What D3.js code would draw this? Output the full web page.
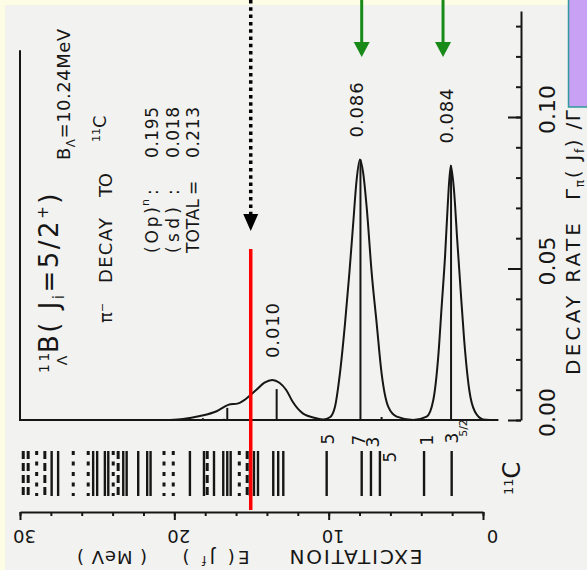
<!DOCTYPE html>
<html>
<head>
<meta charset="utf-8">
<script src="https://cdn.jsdelivr.net/npm/d3@7"></script>
<style>
	html, body { margin: 0; padding: 0; background: #fdfde6; }
	svg { display: block; }
	text { font-family: "DejaVu Sans", sans-serif; fill: #161616; }
</style>
</head>
<body>
<svg id="plot" width="587" height="570"></svg>
<script>

// 11C levels drawn in the level scheme (MeV); group 0 solid, 1 dashed, 2 dotted
const LEVEL_E = [29.79, 29.47, 28.92, 28.39, 27.95, 27.53, 26.55, 25.58, 25.26, 25.00, 24.50, 24.28,
	23.96, 23.64, 23.31, 23.09, 22.34, 21.76, 21.54, 20.67, 20.07, 18.99, 18.08, 17.87,
	17.43, 16.83, 16.57, 16.35, 15.79, 15.28, 15.10, 14.84, 14.58, 13.59, 13.27, 12.94];
const LEVEL_GROUP = [1, 1, 2, 1, 0, 0, 2, 2, 0, 0, 0, 0,
	2, 1, 0, 0, 0, 0, 0, 2, 2, 0, 0, 1,
	0, 0, 0, 0, 2, 1, 0, 0, 0, 0, 0, 0];

// low-lying levels with their 2J labels
const LOW_E = [10.13, 7.86, 7.26, 6.68, 3.82, 2.03];
const LOW_2J = ['5', '7', '3', '5', '1', '3'];

// partial decay rates (sticks)
const STICK_E = [18.99, 18.15, 16.79, 16.57, 13.37, 7.94, 6.57, 2.07];
const STICK_R = [0.0006, 0.0006, 0.0004, 0.0040, 0.0102, 0.0860, 0.0010, 0.0840];

// folded spectrum
const CURVE_E = [20.29, 19.44, 18.34, 17.26, 16.51, 15.86, 15.35, 14.70, 14.16, 13.66, 13.19, 12.75,
	12.33, 11.68, 10.81, 10.35, 9.92, 9.59, 9.27, 8.94, 8.66, 8.41, 8.19, 7.97,
	7.76, 7.54, 7.21, 6.89, 6.57, 6.14, 5.59, 4.52, 3.65, 3.22, 2.90, 2.68,
	2.46, 2.29, 2.09, 1.88, 1.67, 1.45, 1.22, 0.89, 0.52, 0.00, -0.45];
const CURVE_R = [0, 0.0003, 0.0013, 0.0029, 0.0050, 0.0055, 0.0070, 0.0099, 0.0123, 0.0132, 0.0123, 0.0099,
	0.0060, 0.0022, 0.0006, 0.0002, 0.0009, 0.0044, 0.0154, 0.0319, 0.0484, 0.0649, 0.0792, 0.0860,
	0.0814, 0.0704, 0.0484, 0.0319, 0.0154, 0.0044, 0.0011, 0, 0.0011, 0.0066, 0.0209, 0.0374,
	0.0539, 0.0704, 0.0840, 0.0759, 0.0594, 0.0429, 0.0264, 0.0099, 0.0027, 0.0002, 0];

// values printed above the peaks
const PEAK_E = [13.37, 7.94, 2.07];
const PEAK_R = [0.0132, 0.086, 0.084];
const PEAK_TEXT = ['0.010', '0.086', '0.084'];

// summary block
const PART_NAMES = ['(Op)', '(sd)', 'TOTAL'];
const PART_RATES = ['0.195', '0.018', '0.213'];

const E_MAJOR = [30, 20, 10, 0];
const R_MAJOR = [0, 0.05, 0.10];

// slide annotations
const ARROW_E = [7.86, 2.59];
const MARK_E = 15.05;

const INK = '#161616';

const svg = d3.select('#plot');
const x = d3.scaleLinear().domain([30, 0]).range([20, 483]);
const y = d3.scaleLinear().domain([0, 0.1]).range([420, 117]);

// scanned page
svg.append('rect').attr('x', 5).attr('y', 5).attr('width', 582).attr('height', 565).attr('fill', '#f2f2f0');

// vertical text helper (reads bottom to top)
function vtext(cx, cy, size, anchor) {
	return svg.append('text')
		.attr('transform', `translate(${cx},${cy}) rotate(-90)`)
		.attr('text-anchor', anchor || 'start')
		.attr('dy', '0.35em')
		.style('font-size', size + 'px');
}
// upside-down text helper
function utext(cx, cy, size) {
	return svg.append('text')
		.attr('transform', `translate(${cx},${cy}) rotate(180)`)
		.attr('text-anchor', 'middle')
		.attr('dy', '0.35em')
		.style('font-size', size + 'px');
}

// frame
svg.append('path')
	.attr('d', `M${x(30)},${y(0.122)}V${y(0)}H${x(-1)}`)
	.attr('fill', 'none').attr('stroke', INK).attr('stroke-width', 2);

// sticks
svg.selectAll('line.stick')
	.data(STICK_E)
	.enter().append('line')
	.attr('class', 'stick')
	.attr('x1', d => x(d)).attr('x2', d => x(d))
	.attr('y1', y(0)).attr('y2', (d, i) => y(STICK_R[i]))
	.attr('stroke', INK).attr('stroke-width', 2);

// folded curve
const line = d3.line()
	.x(d => x(d[0]))
	.y(d => y(d[1]))
	.curve(d3.curveMonotoneX);
svg.append('path')
	.datum(d3.zip(CURVE_E, CURVE_R))
	.attr('d', line)
	.attr('fill', 'none').attr('stroke', INK).attr('stroke-width', 2);

// peak values
PEAK_TEXT.forEach((t, i) => {
	vtext(x(PEAK_E[i]) - 4, y(PEAK_R[i]) - 22, 18).attr('textLength', 55).text(t);
});

// decay rate axis (right)
const rs = d3.scaleLinear().domain([0, 0.135]).range([y(0), y(0.135)]);
const rMinor = svg.append('g').attr('transform', 'translate(521,0)').attr('color', INK)
	.call(d3.axisRight(rs).tickValues(d3.range(0, 0.131, 0.01)).tickSize(-5).tickSizeOuter(0).tickFormat(''));
const rMajor = svg.append('g').attr('transform', 'translate(521,0)').attr('color', INK)
	.call(d3.axisRight(rs).tickValues(R_MAJOR).tickSize(-13).tickSizeOuter(0).tickFormat(d3.format('.2f')));
rMajor.select('.domain').remove();
[rMinor, rMajor].forEach(g => g.selectAll('path, line').attr('stroke-width', 2));
rMajor.selectAll('text')
	.attr('x', 0).attr('dy', '0.35em')
	.attr('transform', 'translate(26,-8) rotate(-90)')
	.attr('text-anchor', 'middle')
	.style('font-size', '22px').style('font-family', '"DejaVu Sans", sans-serif').attr('fill', INK);

vtext(573, 375, 20).attr('textLength', 152).text('DECAY RATE');
const rt = vtext(573, 200, 20).attr('textLength', 90);
rt.append('tspan').text('Γ');
rt.append('tspan').attr('dy', 4).style('font-size', '12px').text('π');
rt.append('tspan').attr('dy', -4).text('( J');
rt.append('tspan').attr('dy', 4).style('font-size', '12px').text('f');
rt.append('tspan').attr('dy', -4).text(') /Γ');

// energy axis (bottom, upside-down labels)
const eMinor = svg.append('g').attr('transform', 'translate(0,512)').attr('color', INK)
	.call(d3.axisBottom(x).tickValues(d3.range(0, 31, 2)).tickSize(4).tickSizeOuter(0).tickFormat(''));
const eMajor = svg.append('g').attr('transform', 'translate(0,512)').attr('color', INK)
	.call(d3.axisBottom(x).tickValues(E_MAJOR).tickSize(8).tickSizeOuter(0));
eMajor.select('.domain').remove();
[eMinor, eMajor].forEach(g => g.selectAll('path, line').attr('stroke-width', 2));
eMajor.selectAll('text')
	.attr('y', 0).attr('dy', '0.35em')
	.attr('transform', d => `translate(${d === 0 ? 9 : 4},24) rotate(180)`)
	.style('font-size', '18px').style('font-family', '"DejaVu Sans", sans-serif').attr('fill', INK);

utext(356, 557, 20).attr('textLength', 133).text('EXCITATION');
const et = utext(216, 557, 18).attr('textLength', 67);
et.append('tspan').text('E( J');
et.append('tspan').attr('dy', -5).style('font-size', '12px').text('f');
et.append('tspan').attr('dy', 5).text(' )');
utext(112, 557, 18).attr('textLength', 70).text('( MeV )');

// level scheme
const LEVEL_TOP = 451, LEVEL_BOTTOM = 496;
const dashFor = [null, '8 4', '4 6.5'];
svg.selectAll('line.level')
	.data(LEVEL_E)
	.enter().append('line')
	.attr('class', 'level')
	.attr('x1', d => x(d)).attr('x2', d => x(d))
	.attr('y1', LEVEL_TOP).attr('y2', LEVEL_BOTTOM)
	.attr('stroke', INK)
	.attr('stroke-width', (d, i) => LEVEL_GROUP[i] === 0 ? 2.4 : 3)
	.attr('stroke-dasharray', (d, i) => dashFor[LEVEL_GROUP[i]]);

svg.selectAll('line.low')
	.data(LOW_E)
	.enter().append('line')
	.attr('class', 'low')
	.attr('x1', d => x(d)).attr('x2', d => x(d))
	.attr('y1', LEVEL_TOP).attr('y2', LEVEL_BOTTOM)
	.attr('stroke', INK).attr('stroke-width', 2.4);

const lowDx = [1, -3, 2, 10, 3, 0];
const lowY = [439, 440, 442, 457, 440, 438];
LOW_2J.forEach((t, i) => {
	vtext(x(LOW_E[i]) + lowDx[i], lowY[i], 17, 'middle').text(t);
});
vtext(x(LOW_E[5]) + 11, 428, 11, 'middle').text('5/2');

const c11 = vtext(520, 495, 24);
c11.append('tspan').attr('dy', -7).style('font-size', '13px').text('11');
c11.append('tspan').attr('dy', 7).text('C');

// title block
const ta = vtext(58, 373, 26).style('letter-spacing', '2.5px');
ta.append('tspan').attr('dy', -9).style('font-size', '14px').text('11');
ta.append('tspan').attr('dx', -15).attr('dy', 18).style('font-size', '14px').text('Λ');
ta.append('tspan').attr('dy', -9).text('B( J');
ta.append('tspan').attr('dy', 6).style('font-size', '15px').text('i');
ta.append('tspan').attr('dy', -6).text('=5/2');
ta.append('tspan').attr('dy', -10).style('font-size', '15px').text('+');
ta.append('tspan').attr('dy', 10).text(')');

const tb = vtext(64, 160, 18).style('letter-spacing', '0.5px');
tb.append('tspan').text('B');
tb.append('tspan').attr('dy', 5).style('font-size', '12px').text('Λ');
tb.append('tspan').attr('dy', -5).text('=10.24MeV');

vtext(106, 323, 18).text('π⁻');
vtext(106, 283, 18).attr('textLength', 65).text('DECAY');
vtext(106, 197, 18).attr('textLength', 24).text('TO');
const tc = vtext(106, 142, 18);
tc.append('tspan').attr('dy', -6).style('font-size', '11px').text('11');
tc.append('tspan').attr('dy', 6).text('C');

const partX = [152, 173, 193];
PART_NAMES.forEach((n, i) => {
	vtext(partX[i], 253, 17).attr('textLength', i === 2 ? 54 : 46).text(n);
	if (i === 0) {
		vtext(partX[i], 206, 11).attr('dy', '-0.3em').text('n');
	}
	vtext(partX[i], 195, 17).text(i === 2 ? '=' : ':');
	vtext(partX[i], 158, 17).attr('textLength', 51).text(PART_RATES[i]);
});

// slide annotations: dotted arrow and red marker
svg.append('line')
	.attr('x1', x(MARK_E)).attr('x2', x(MARK_E))
	.attr('y1', 0).attr('y2', 214)
	.attr('stroke', '#000').attr('stroke-width', 3.5).attr('stroke-dasharray', '3.5 3.8');
svg.append('path')
	.attr('d', `M${x(MARK_E) - 7.5},214L${x(MARK_E) + 7.5},214L${x(MARK_E)},231Z`)
	.attr('fill', '#000');
svg.append('line')
	.attr('x1', x(MARK_E)).attr('x2', x(MARK_E))
	.attr('y1', 249).attr('y2', 510)
	.attr('stroke', '#ff0000').attr('stroke-width', 3.5);

// green arrows
ARROW_E.forEach(e => {
	svg.append('line')
		.attr('x1', x(e)).attr('x2', x(e))
		.attr('y1', 0).attr('y2', 44)
		.attr('stroke', '#188a18').attr('stroke-width', 3);
	svg.append('path')
		.attr('d', `M${x(e) - 8},42L${x(e) + 8},42L${x(e)},57Z`)
		.attr('fill', '#188a18');
});

// purple note box, cut off at the edge
svg.append('rect')
	.attr('x', 568.5).attr('y', -2).attr('width', 30).attr('height', 109)
	.attr('fill', '#c8a0f4').attr('stroke', '#2e9c9a').attr('stroke-width', 1.5);

</script>
</body>
</html>
